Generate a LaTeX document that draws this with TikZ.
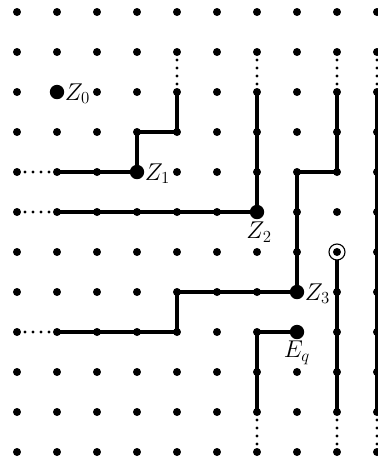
\documentclass[tikz,border=0pt]{standalone}
\begin{document}
\begin{tikzpicture}[
  gdot/.style={circle,fill=black,inner sep=0pt,minimum size=0.2cm},
  bigdot/.style={circle,fill=black,inner sep=0pt,minimum size=0.36cm},
  ringdot/.style={circle,draw=black,fill=white,line width=0.8pt,inner sep=0pt,minimum size=0.4cm},
  trail/.style={line width=2.2pt},
  dotline/.style={line width=2.4pt,line cap=round,dash pattern=on 0pt off 0.2cm},
  lab/.style={font=\fontsize{17}{20}\selectfont,inner sep=0pt}
]
\useasboundingbox (-0.425,0.3) rectangle (9,-11.175);
% grid of dots
\foreach \i in {0,...,9}{
  \foreach \j in {0,...,11}{
    \node[gdot] (p-\i-\j) at (\i,-\j) {};
  }
}
% path through Z1
\draw[dotline] (p-0-4.center) -- (p-1-4.center);
\draw[trail] (p-1-4.center) -- (p-3-4.center) -- (p-3-3.center) -- (p-4-3.center) -- (p-4-2.center);
\draw[dotline] (p-4-2.center) -- (p-4-1.center);
% path through Z2
\draw[dotline] (p-0-5.center) -- (p-1-5.center);
\draw[trail] (p-1-5.center) -- (p-6-5.center) -- (p-6-2.center);
\draw[dotline] (p-6-2.center) -- (p-6-1.center);
% path through Z3
\draw[dotline] (p-0-8.center) -- (p-1-8.center);
\draw[trail] (p-1-8.center) -- (p-4-8.center) -- (p-4-7.center) -- (p-7-7.center) -- (p-7-4.center) -- (p-8-4.center) -- (p-8-2.center);
\draw[dotline] (p-8-2.center) -- (p-8-1.center);
% path from Eq
\draw[trail] (p-7-8.center) -- (p-6-8.center) -- (p-6-10.center);
\draw[dotline] (p-6-10.center) -- (p-6-11.center);
% path from ring
\draw[trail] (p-8-6.center) -- (p-8-10.center);
\draw[dotline] (p-8-10.center) -- (p-8-11.center);
% right column
\draw[dotline] (p-9-1.center) -- (p-9-2.center);
\draw[trail] (p-9-2.center) -- (p-9-10.center);
\draw[dotline] (p-9-10.center) -- (p-9-11.center);
% special points
\node[bigdot] (z0) at (p-1-2) {};
\node[bigdot] (z1) at (p-3-4) {};
\node[bigdot] (z2) at (p-6-5) {};
\node[bigdot] (z3) at (p-7-7) {};
\node[bigdot] (eq) at (p-7-8) {};
\node[ringdot] (ring) at (p-8-6) {};
\node[gdot] (ringc) at (p-8-6) {};
% labels
\node[lab,anchor=base west] (l0) at ([yshift=-5.8pt]z0.east) {$Z_0$};
\node[lab,anchor=base west] (l1) at ([yshift=-5.8pt]z1.east) {$Z_1$};
\node[lab,anchor=north] (l2) at ([xshift=1.5pt,yshift=-1.5pt]z2.south) {$Z_2$};
\node[lab,anchor=base west] (l3) at ([yshift=-5.8pt]z3.east) {$Z_3$};
\node[lab,anchor=north] (l4) at ([yshift=-1pt]eq.south) {$E_q$};
\end{tikzpicture}
\end{document}
